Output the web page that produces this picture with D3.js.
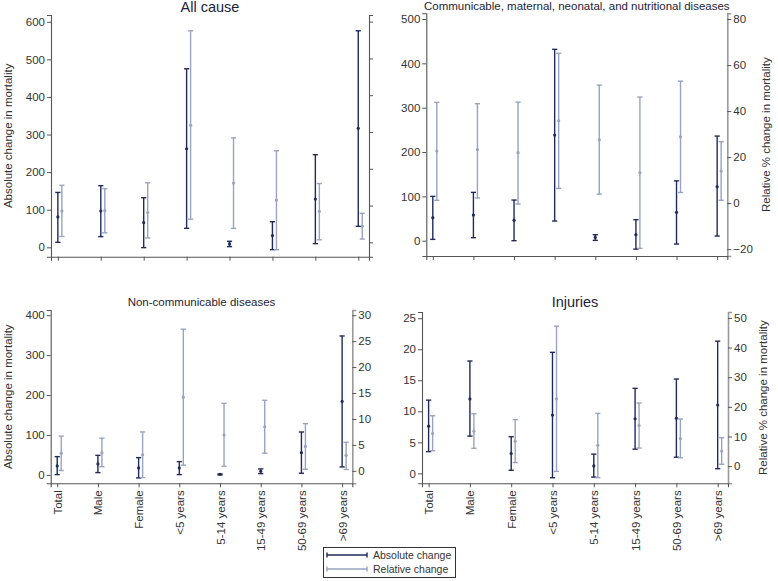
<!DOCTYPE html>
<html>
<head>
<meta charset="utf-8">
<script src="https://cdn.jsdelivr.net/npm/d3@7"></script>
<style>
  body { margin: 0; background: #fff; }
  svg { display: block; font-family: "Liberation Sans", Arial, sans-serif; }
</style>
</head>
<body>
<svg id="chart" width="778" height="581"></svg>
<script>
// categories (x axis)
const categories = ["Total", "Male", "Female", "<5 years", "5-14 years", "15-49 years", "50-69 years", ">69 years"];

// All cause
const allAbs     = [80.7, 96.6, 65.6, 262, 8.9, 31, 128.5, 316.4];
const allAbsLow  = [13.3, 28.4, -0.9, 50.5, 1.8, -6.2, 9.7, 55.8];
const allAbsHigh = [146, 164, 132, 475, 16, 68.2, 246.4, 576];
const allRel     = [8.5, 8.6, 8.1, 31.8, 16.1, 11.5, 8.4, 4.4];
const allRelLow  = [1.6, 2.6, 1.2, 6.3, 3.8, -2.0, 0.7, 0.9];
const allRelHigh = [15.5, 14.6, 16.2, 57.5, 28.4, 24.9, 16.0, 7.9];

// Communicable, maternal, neonatal, and nutritional diseases
const cmnAbs     = [51.9, 57.9, 45.9, 238.3, 7.5, 13.5, 63.9, 121.8];
const cmnAbsLow  = [3, 6.8, 0, 44.4, 0.75, -19, -7.5, 10.5];
const cmnAbsHigh = [100, 109, 91.7, 431.6, 13.5, 47.4, 135, 236];
const cmnRel     = [22.6, 23.2, 21.9, 35.8, 27.5, 13.2, 28.8, 13.9];
const cmnRelLow  = [1.2, 2.2, -0.4, 6.4, 3.9, -19.7, 4.6, 1.2];
const cmnRelHigh = [43.8, 43.2, 43.9, 65.1, 51.3, 46.1, 53, 26.7];

// Non-communicable diseases
const ncdAbs     = [22.5, 27.5, 17.5, 17.5, 1.7, 9.2, 55.8, 184];
const ncdAbsLow  = [0.8, 5.8, -7.5, 0.8, 0, 3.3, 4.2, 20];
const ncdAbsHigh = [45.8, 49, 43.3, 33.3, 2.5, 15, 107.5, 348];
const ncdRel     = [3.4, 3.5, 3.1, 14.2, 6.9, 8.5, 4.7, 3.0];
const ncdRelLow  = [0.06, 0.8, -1.3, 1.1, 0.9, 3.4, 0.3, 0.26];
const ncdRelHigh = [6.7, 6.3, 7.5, 27.3, 13.0, 13.6, 9.1, 5.5];

// Injuries
const injAbs     = [7.6, 12.0, 3.2, 9.4, 1.2, 8.8, 8.9, 11.0];
const injAbsLow  = [3.5, 6.0, 0.5, -0.7, -0.6, 3.9, 2.6, 0.75];
const injAbsHigh = [11.8, 18.1, 5.9, 19.5, 3.1, 13.7, 15.2, 21.3];
const injRel     = [11.0, 11.8, 8.4, 22.7, 7.0, 13.7, 9.3, 5.1];
const injRelLow  = [5.2, 6.0, 1.2, -1.8, -3.9, 6.1, 2.8, 0.6];
const injRelHigh = [17.0, 17.7, 15.7, 47.2, 17.8, 21.3, 15.9, 9.6];

const colAbs = "#1f2b5b";
const colRel = "#9aa3c0";
const colAxis = "#555";
const colText = "#333";

const svg = d3.select("#chart");

/*
 drawPanel(p)
 dessine un panneau: deux axes y (absolu a gauche, relatif a droite),
 les barres d'erreur (rcap) et les points estimes
*/
function drawPanel(p) {
  const g = svg.append("g");
  const x = d3.scaleLinear().domain([0.84, 8.25]).range([p.x0, p.x1]);
  const yL = d3.scaleLinear().domain(p.leftDom).range([p.y1, p.y0]);
  const yR = d3.scaleLinear().domain(p.rightDom).range([p.y1, p.y0]);

  // axes
  const axL = g.append("g").attr("transform", "translate(" + p.x0 + ",0)")
    .call(d3.axisLeft(yL).tickValues(p.leftTicks).tickSize(4).tickPadding(2));
  const axR = g.append("g").attr("transform", "translate(" + p.x1 + ",0)")
    .call(d3.axisRight(yR).tickValues(p.rightTicks).tickSize(4).tickPadding(2)
      .tickFormat(p.rightLabels ? d3.format("d") : () => ""));
  const axB = g.append("g").attr("transform", "translate(0," + p.y1 + ")")
    .call(d3.axisBottom(x).tickValues(d3.range(1, 9)).tickSize(4)
      .tickFormat(p.xLabels ? (d => categories[d - 1]) : () => ""));

  [axL, axR, axB].forEach(a => {
    a.select(".domain").attr("stroke", colAxis).attr("stroke-width", 1.1);
    a.selectAll(".tick line").attr("stroke", colAxis);
    a.selectAll("text").attr("fill", colText).attr("font-size", 11.5)
      .attr("font-family", "'Liberation Sans', Arial, sans-serif");
  });
  axR.select(".domain").attr("stroke", p.rightLabels ? "#999" : colAxis)
    .attr("stroke-width", p.rightLabels ? 1.6 : 1.1);

  if (p.xLabels) {
    axB.selectAll(".tick text")
      .attr("transform", "rotate(-90)")
      .attr("text-anchor", "end")
      .attr("x", -7).attr("y", 0).attr("dy", "0.35em");
  }

  // titres
  g.append("text").attr("x", (p.x0 + p.x1) / 2).attr("y", p.titleY)
    .attr("text-anchor", "middle").attr("font-size", p.titleSize)
    .attr("fill", "#1d2338").text(p.title);

  if (p.leftTitle) {
    g.append("text")
      .attr("transform", "translate(12," + ((p.y0 + p.y1) / 2) + ") rotate(-90)")
      .attr("text-anchor", "middle").attr("font-size", 11.5).attr("fill", colText)
      .text("Absolute change in mortality");
  }
  if (p.rightTitle) {
    g.append("text")
      .attr("transform", "translate(" + p.rightTitleX + "," + ((p.y0 + p.y1) / 2) + ") rotate(-90)")
      .attr("text-anchor", "middle").attr("font-size", 11.5).attr("fill", colText)
      .text("Relative % change in mortality");
  }

  // barres d'erreur
  const series = [
    { est: p.abs, lo: p.absLow, hi: p.absHigh, y: yL, dx: 0, col: colAbs },
    { est: p.rel, lo: p.relLow, hi: p.relHigh, y: yR, dx: 4, col: colRel }
  ];
  series.forEach(s => {
    const sg = g.append("g");
    categories.forEach((c, i) => {
      const cx = x(i + 1) + s.dx;
      const top = s.y(s.hi[i]), bot = s.y(s.lo[i]);
      sg.append("line").attr("x1", cx).attr("x2", cx).attr("y1", top).attr("y2", bot)
        .attr("stroke", s.col).attr("stroke-width", 1.4);
      [top, bot].forEach(yy => {
        sg.append("line").attr("x1", cx - 2.6).attr("x2", cx + 2.6).attr("y1", yy).attr("y2", yy)
          .attr("stroke", s.col).attr("stroke-width", 1.4);
      });
      sg.append("circle").attr("cx", cx).attr("cy", s.y(s.est[i])).attr("r", 1.6)
        .attr("fill", s.col);
    });
  });
}

drawPanel({
  x0: 51, x1: 369, y0: 15, y1: 256.7,
  leftDom: [-25, 618], leftTicks: d3.range(0, 601, 100),
  rightDom: [-3.9, 61.8], rightTicks: d3.range(0, 61, 10), rightLabels: false,
  xLabels: false, title: "All cause", titleSize: 14.5, titleY: 12,
  leftTitle: true, rightTitle: false,
  abs: allAbs, absLow: allAbsLow, absHigh: allAbsHigh,
  rel: allRel, relLow: allRelLow, relHigh: allRelHigh
});

drawPanel({
  x0: 426.3, x1: 727.3, y0: 13.3, y1: 256,
  leftDom: [-34.5, 512.9], leftTicks: d3.range(0, 501, 100),
  rightDom: [-23, 82.5], rightTicks: d3.range(-20, 81, 20), rightLabels: true,
  xLabels: false, title: "Communicable, maternal, neonatal, and nutritional diseases",
  titleSize: 11.5, titleY: 9.5,
  leftTitle: false, rightTitle: true, rightTitleX: 770,
  abs: cmnAbs, absLow: cmnAbsLow, absHigh: cmnAbsHigh,
  rel: cmnRel, relLow: cmnRelLow, relHigh: cmnRelHigh
});

drawPanel({
  x0: 50.7, x1: 352.3, y0: 310, y1: 483.3,
  leftDom: [-21, 413], leftTicks: d3.range(0, 401, 100),
  rightDom: [-2.4, 31], rightTicks: d3.range(0, 31, 5), rightLabels: true,
  xLabels: true, title: "Non-communicable diseases", titleSize: 11.5, titleY: 305.5,
  leftTitle: true, rightTitle: false,
  abs: ncdAbs, absLow: ncdAbsLow, absHigh: ncdAbsHigh,
  rel: ncdRel, relLow: ncdRelLow, relHigh: ncdRelHigh
});

drawPanel({
  x0: 422, x1: 728, y0: 312, y1: 483.3,
  leftDom: [-1.6, 26], leftTicks: d3.range(0, 26, 5),
  rightDom: [-5.8, 52], rightTicks: d3.range(0, 51, 10), rightLabels: true,
  xLabels: true, title: "Injuries", titleSize: 14.5, titleY: 306.5,
  leftTitle: false, rightTitle: true, rightTitleX: 767,
  abs: injAbs, absLow: injAbsLow, absHigh: injAbsHigh,
  rel: injRel, relLow: injRelLow, relHigh: injRelHigh
});

// legende
const leg = svg.append("g");
leg.append("rect").attr("x", 323.5).attr("y", 547.5).attr("width", 132).attr("height", 30)
  .attr("fill", "#fff").attr("stroke", "#333").attr("stroke-width", 1);
[["Absolute change", colAbs, 555], ["Relative change", colRel, 569]].forEach(d => {
  leg.append("line").attr("x1", 327).attr("x2", 367).attr("y1", d[2]).attr("y2", d[2])
    .attr("stroke", d[1]).attr("stroke-width", 1.4);
  [327, 367].forEach(xx => leg.append("line").attr("x1", xx).attr("x2", xx)
    .attr("y1", d[2] - 2.6).attr("y2", d[2] + 2.6).attr("stroke", d[1]).attr("stroke-width", 1.4));
  leg.append("text").attr("x", 373).attr("y", d[2]).attr("dy", "0.35em")
    .attr("font-size", 10.5).attr("fill", colText).text(d[0]);
});
</script>
</body>
</html>
